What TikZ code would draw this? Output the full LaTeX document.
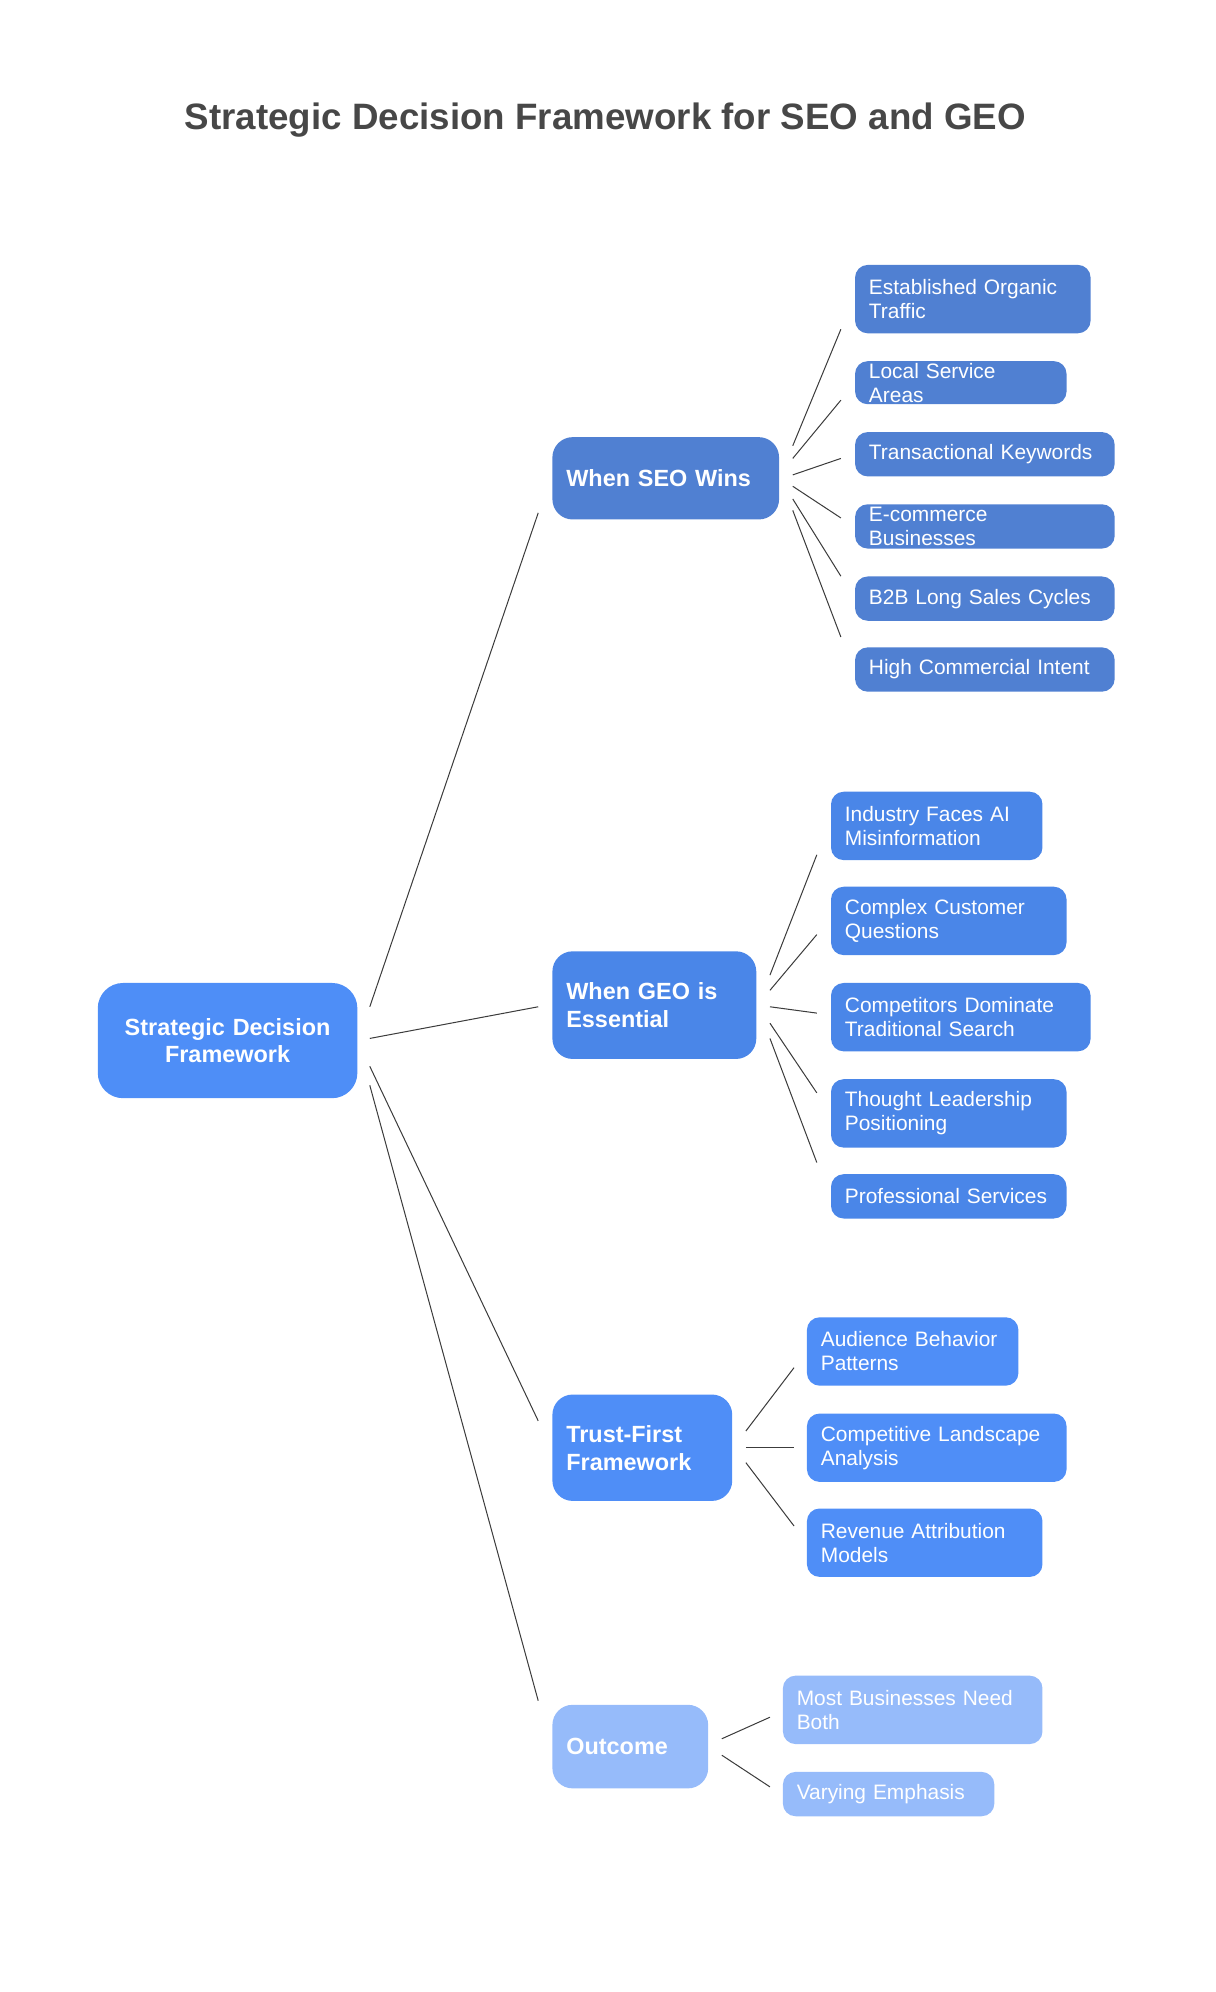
\documentclass[tikz,border=0pt]{standalone}
\usepackage{fontspec}
\setmainfont{Liberation Sans}
\definecolor{rootc}{RGB}{78,142,247}
\definecolor{seoc}{RGB}{80,128,210}
\definecolor{geoc}{RGB}{74,134,232}
\definecolor{trustc}{RGB}{79,142,247}
\definecolor{outc}{RGB}{150,187,250}
\definecolor{linec}{RGB}{60,60,60}
\newcommand{\bx}[7]{%
  \pgfmathsetmacro{\tw}{#4-#2-22}\pgfmathsetmacro{\th}{#5-#3}%
  \node[#6, text width=\tw pt, minimum height=\th pt] (#1) at (#2,#3) {#7};}
\begin{document}
\hyphenpenalty=10000 \exhyphenpenalty=10000
\begin{tikzpicture}[x=1pt,y=-1pt,
  box/.style={anchor=north west, rounded corners=10pt, inner xsep=11pt, inner ysep=0pt, text=white, align=left, font=\fontsize{16.5}{19}\selectfont},
  par/.style={box, rounded corners=16pt, font=\bfseries\fontsize{18.5}{22}\selectfont},
  conn/.style={draw=linec, line width=0.8pt}]
\useasboundingbox (0,0) rectangle (960,1573);
\node[font=\bfseries\fontsize{29}{34}\selectfont, text=black!72] (title) at (478,95) {Strategic Decision Framework for SEO and GEO};
\bx{root}{77}{776}{282}{867}{par, fill=rootc, rounded corners=20pt, align=center}{Strategic Decision\\Framework}
\bx{seo}{436}{345}{615}{410}{par, fill=seoc}{When SEO Wins}
\bx{geo}{436}{751}{597}{836}{par, fill=geoc}{When GEO is\\Essential}
\bx{tru}{436}{1101}{578}{1185}{par, fill=trustc}{Trust-First\\Framework}
\bx{out}{436}{1346}{559}{1412}{par, fill=outc}{Outcome}
\bx{s1}{675}{209}{861}{263}{box, fill=seoc}{Established Organic\\Traffic}
\bx{s2}{675}{285}{842}{319}{box, fill=seoc}{Local Service Areas}
\bx{s3}{675}{341}{880}{376}{box, fill=seoc}{Transactional Keywords}
\bx{s4}{675}{398}{880}{433}{box, fill=seoc}{E-commerce Businesses}
\bx{s5}{675}{455}{880}{490}{box, fill=seoc}{B2B Long Sales Cycles}
\bx{s6}{675}{511}{880}{546}{box, fill=seoc}{High Commercial Intent}
\bx{g1}{656}{625}{823}{679}{box, fill=geoc}{Industry Faces AI\\Misinformation}
\bx{g2}{656}{700}{842}{754}{box, fill=geoc}{Complex Customer\\Questions}
\bx{g3}{656}{776}{861}{830}{box, fill=geoc}{Competitors Dominate\\Traditional Search}
\bx{g4}{656}{852}{842}{906}{box, fill=geoc}{Thought Leadership\\Positioning}
\bx{g5}{656}{927}{842}{962}{box, fill=geoc}{Professional Services}
\bx{t1}{637}{1040}{804}{1094}{box, fill=trustc}{Audience Behavior\\Patterns}
\bx{t2}{637}{1116}{842}{1170}{box, fill=trustc}{Competitive Landscape\\Analysis}
\bx{t3}{637}{1191}{823}{1245}{box, fill=trustc}{Revenue Attribution\\Models}
\bx{o1}{618}{1323}{823}{1377}{box, fill=outc}{Most Businesses Need\\Both}
\bx{o2}{618}{1399}{785}{1434}{box, fill=outc}{Varying Emphasis}
\foreach \a/\b/\c/\d [count=\i] in {292/795/425/405, 292/820/425/795, 292/842/425/1122, 292/857/425/1343,
  626/352/664/260, 626/362/664/316, 626/375/664/362, 626/384/664/409, 626/394/664/455, 626/403/664/503,
  608/770/645/675, 608/782/645/738, 608/795/645/800, 608/808/645/863, 608/820/645/918,
  589/1130/627/1080, 589/1143/627/1143, 589/1155/627/1205,
  570/1373/608/1356, 570/1386/608/1411}{
  \coordinate (p\i) at (\a,\b); \coordinate (q\i) at (\c,\d);
  \draw[conn] (p\i) -- (q\i);}
\end{tikzpicture}
\end{document}
